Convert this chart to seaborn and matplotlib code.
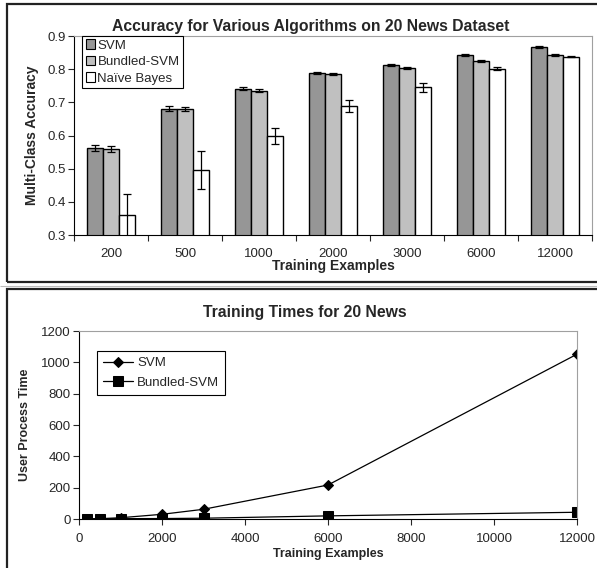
import numpy as np
import pandas as pd
import seaborn as sns
from matplotlib import pyplot as plt
from matplotlib.patches import Rectangle

# ---- data ----
examples = ['200', '500', '1000', '2000', '3000', '6000', '12000']
algs = ['SVM', 'Bundled-SVM', 'Na\u00efve Bayes']

acc_svm = [0.563, 0.681, 0.741, 0.788, 0.812, 0.843, 0.866]
acc_bundled = [0.558, 0.681, 0.735, 0.785, 0.804, 0.826, 0.842]
acc_nb = [0.360, 0.495, 0.598, 0.689, 0.745, 0.802, 0.838]

err_svm = [0.009, 0.008, 0.005, 0.003, 0.003, 0.002, 0.003]
err_bundled = [0.009, 0.006, 0.004, 0.003, 0.004, 0.003, 0.003]
err_nb = [0.065, 0.057, 0.024, 0.018, 0.013, 0.005, 0.002]

train_sizes = [200, 500, 1000, 2000, 3000, 6000, 12000]
time_svm = [1, 2, 8, 30, 62, 217, 1052]
time_bundled = [0, 1, 2, 3, 5, 20, 43]

# ---- style ----
sns.set_style('white')
plt.rcParams['font.family'] = ['Liberation Sans', 'DejaVu Sans']
plt.rcParams['font.size'] = 9.5

W, H = 597, 568
fig = plt.figure(figsize=(W / 100, H / 100), dpi=100)


def px_axes(left, top, right, bottom):
    '''axes from pixel coords of the reference'''
    return fig.add_axes([left / W, 1 - bottom / H, (right - left) / W, (bottom - top) / H])


# panel frames
fig.patches.append(Rectangle((7 / W, 1 - 282 / H), 1.0, 278 / H, transform=fig.transFigure,
                             fill=False, edgecolor='#222222', lw=1.6))
fig.patches.append(Rectangle((0, 1 - 286 / H), 1.0, 0.0, transform=fig.transFigure,
                             fill=False, edgecolor='#bbbbbb', lw=0.8))
fig.patches.append(Rectangle((7 / W, -0.05), 1.0, 1 - 289 / H + 0.05, transform=fig.transFigure,
                             fill=False, edgecolor='#222222', lw=1.6))

# ---------------- top: accuracy bars ----------------
ax1 = px_axes(74, 36, 592, 235)
acc_df = pd.DataFrame({
    'examples': examples * 3,
    'acc': acc_svm + acc_bundled + acc_nb,
    'alg': [a for a in algs for _ in examples],
})
errs = [err_svm, err_bundled, err_nb]

sns.barplot(data=acc_df, x='examples', y='acc', hue='alg', order=examples, hue_order=algs,
            palette=['#969696', '#c0c0c0', '#ffffff'], edgecolor='black', linewidth=1.0,
            width=0.66, errorbar=None, saturation=1, ax=ax1)

for cont, e in zip(ax1.containers, errs):
    xs = [p.get_x() + p.get_width() / 2 for p in cont]
    hs = [p.get_height() for p in cont]
    ax1.errorbar(xs, hs, yerr=e, fmt='none', ecolor='black', elinewidth=0.9, capsize=3.2, capthick=0.9)

ax1.set_ylim(0.3, 0.9)
ax1.set_xlim(-0.5, 6.5)
ax1.set_yticks(np.arange(0.3, 0.91, 0.1))
ax1.set_yticklabels(['%.1f' % v for v in np.arange(0.3, 0.91, 0.1)])
ax1.set_xticks(np.arange(-0.5, 7, 1))
ax1.set_xticklabels([])
ax1.set_xticks(range(7), labels=examples, minor=True)
ax1.tick_params(axis='x', which='minor', length=0, pad=9)
ax1.tick_params(axis='x', which='major', length=4, direction='out', width=0.8, bottom=True)
ax1.tick_params(axis='y', length=4, direction='out', width=0.8, left=True, pad=2)
ax1.set_xlabel('Training Examples', fontweight='bold', fontsize=10, labelpad=2)
ax1.set_ylabel('Multi-Class Accuracy', fontweight='bold', fontsize=10, labelpad=6)
for s in ['top', 'right']:
    ax1.spines[s].set_color('#a0a0a0')
    ax1.spines[s].set_linewidth(0.8)
for s in ['left', 'bottom']:
    ax1.spines[s].set_color('black')
    ax1.spines[s].set_linewidth(0.8)
# x label sits tight under the tick labels, as in the original
ax1.xaxis.set_label_coords(0.5, -0.12)

leg1 = ax1.legend(loc='upper left', bbox_to_anchor=(0.016, 1.0), borderaxespad=0,
                  fancybox=False, framealpha=1, edgecolor='black', handlelength=0.75,
                  handleheight=0.75, handletextpad=0.15, borderpad=0.25, labelspacing=0.3,
                  fontsize=9.5)
leg1.get_frame().set_linewidth(0.8)
for h in leg1.legend_handles:
    h.set_edgecolor('black')
    h.set_linewidth(0.8)

fig.text(311 / W, 1 - 27 / H, 'Accuracy for Various Algorithms on 20 News Dataset',
         ha='center', va='center', fontweight='bold', fontsize=11.3)

# ---------------- bottom: training times ----------------
ax2 = px_axes(79, 331, 577, 519)
time_df = pd.DataFrame({
    'examples': train_sizes * 2,
    'time': time_svm + time_bundled,
    'alg': ['SVM'] * len(train_sizes) + ['Bundled-SVM'] * len(train_sizes),
})
sns.lineplot(data=time_df, x='examples', y='time', hue='alg', style='alg',
             hue_order=['SVM', 'Bundled-SVM'], style_order=['SVM', 'Bundled-SVM'],
             palette=['black', 'black'], markers=['D', 's'], dashes=False,
             linewidth=0.9, markersize=5.2, markeredgecolor='black', ax=ax2)
for line in ax2.lines:
    if line.get_marker() == 's':
        line.set_markersize(7.2)

ax2.set_xlim(0, 12000)
ax2.set_ylim(0, 1200)
ax2.set_xticks(range(0, 12001, 2000))
ax2.set_yticks(range(0, 1201, 200))
ax2.tick_params(axis='x', length=4, direction='out', width=0.8, bottom=True, pad=6)
ax2.tick_params(axis='y', length=4, direction='out', width=0.8, left=True, pad=2)
ax2.set_xlabel('Training Examples', fontweight='bold', fontsize=9, labelpad=2)
ax2.set_ylabel('User Process Time', fontweight='bold', fontsize=9, labelpad=7)
for s in ['top', 'right']:
    ax2.spines[s].set_color('#a0a0a0')
    ax2.spines[s].set_linewidth(0.8)
for s in ['left', 'bottom']:
    ax2.spines[s].set_color('black')
    ax2.spines[s].set_linewidth(0.8)

leg2 = ax2.legend(loc='upper left', bbox_to_anchor=(18 / 498, 1 - 20 / 188), borderaxespad=0,
                  fancybox=False, framealpha=1, edgecolor='black', handlelength=2.3,
                  handletextpad=0.3, borderpad=0.45, labelspacing=0.55, fontsize=9.5)
leg2.get_frame().set_linewidth(0.8)

fig.text(305 / W, 1 - 312 / H, 'Training Times for 20 News',
         ha='center', va='center', fontweight='bold', fontsize=11.3)

fig.savefig('out.png', dpi=100)
